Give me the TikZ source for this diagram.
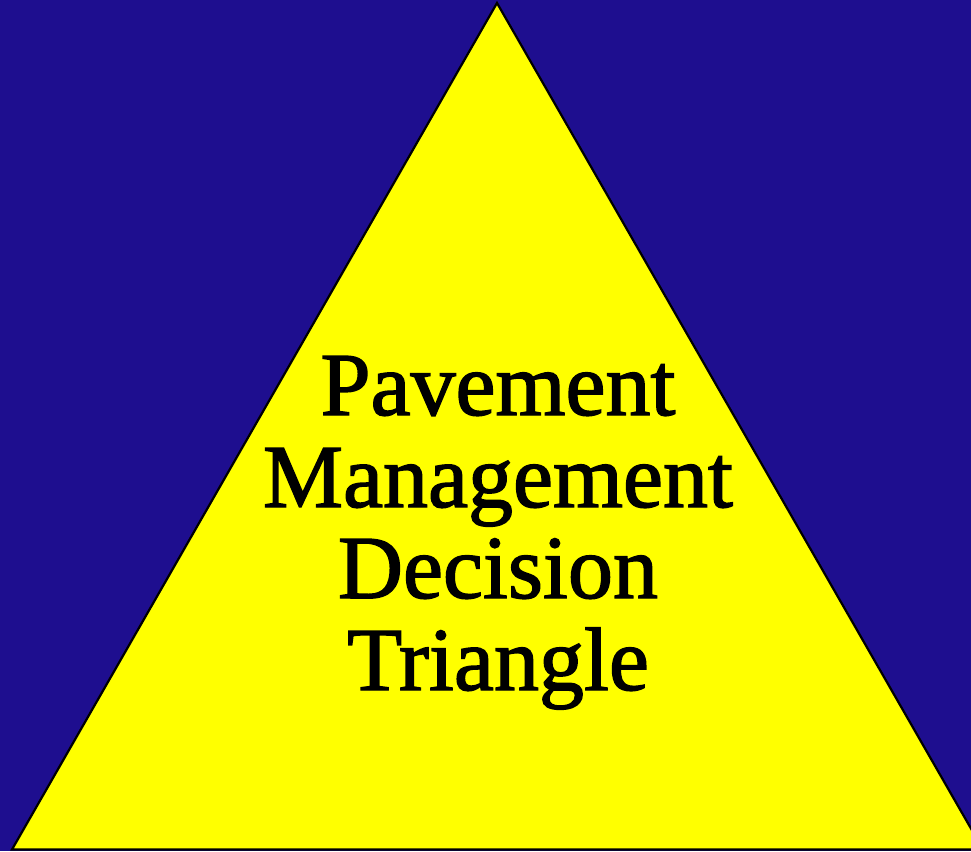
\documentclass[tikz,border=0pt]{standalone}
\usepackage{fontspec}
\setmainfont{Liberation Serif}
\newfontfamily\lblfont{Liberation Serif}[FakeBold=1.6]
\definecolor{bgblue}{RGB}{30,14,143}
\definecolor{triyellow}{RGB}{255,255,0}
\begin{document}
\begin{tikzpicture}[x=1pt,y=-1pt,
  lbl/.style={anchor=base, inner sep=0pt, font=\lblfont\fontsize{90}{92}\selectfont, text=black}]
\useasboundingbox (0,0) rectangle (971,851);
\clip (0,0) rectangle (971,851);
\fill[bgblue] (0,0) rectangle (971,851);
\filldraw[fill=triyellow, draw=black, line width=2.2pt, line join=miter]
  (497,3) -- (983,849.5) -- (12,849.5) -- cycle;
\node[lbl] (l1) at (498,415) {Pavement};
\node[lbl] (l2) at (498,507) {Management};
\node[lbl] (l3) at (498,598) {Decision};
\node[lbl] (l4) at (498,690) {Triangle};
\end{tikzpicture}
\end{document}
